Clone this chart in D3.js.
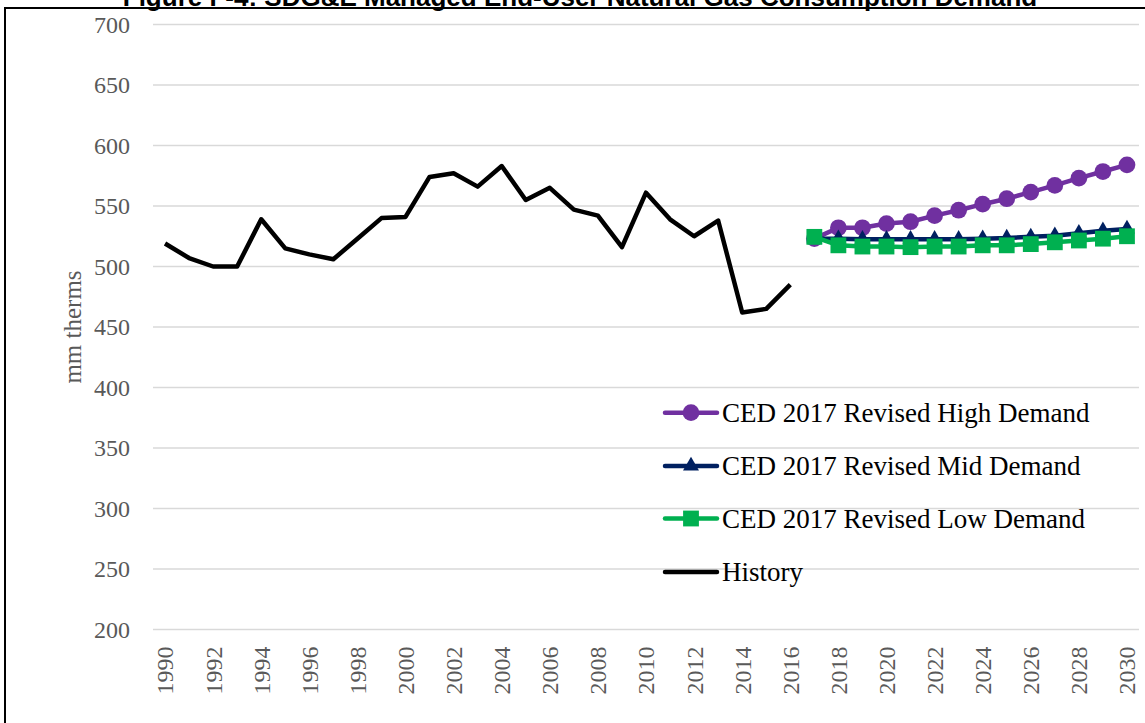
<!DOCTYPE html>
<html>
<head>
<meta charset="utf-8">
<script src="https://cdn.jsdelivr.net/npm/d3@7"></script>
<style>
  html, body { margin: 0; padding: 0; background: #fff; }
  svg { display: block; }
</style>
</head>
<body>
<svg id="chart" width="1145" height="723"></svg>
<script>
// SDG&E managed end-user natural gas consumption, mm therms
const years = d3.range(1990, 2031);
const yTicks = [200, 250, 300, 350, 400, 450, 500, 550, 600, 650, 700];

const historyYears = d3.range(1990, 2017);
const historyValues = [519, 507, 500, 500, 539, 515, 510, 506, 523, 540,
                       541, 574, 577, 566, 583, 555, 565, 547, 542, 516,
                       561, 539, 525, 538, 462, 465, 485];

const forecastYears = d3.range(2017, 2031);
const highValues = [523, 532, 532, 535.5, 537, 542, 546.5, 551.5, 556, 561.5, 567, 573, 578.5, 584];
const midValues  = [523, 523, 522.5, 522.5, 522.5, 522.5, 522.5, 523, 523.5, 524.5, 525.5, 527.5, 529.5, 531];
const lowValues  = [524.5, 517.5, 516.5, 516.5, 516, 516.5, 516.5, 517.5, 517.5, 518.5, 520, 521.5, 523, 525];

const legendLabels = ["CED 2017 Revised High Demand", "CED 2017 Revised Mid Demand",
                      "CED 2017 Revised Low Demand", "History"];

const svg = d3.select("#chart");
const serif = "'Liberation Serif', 'DejaVu Serif', serif";

const x = d3.scaleBand().domain(years).range([153, 1139]).padding(0);
const cx = d => x(d) + x.bandwidth() / 2;
const y = d3.scaleLinear().domain([200, 700]).range([629.5, 24.5]);

// title (partly above the frame)
svg.append("text")
  .attr("x", 580).attr("y", 5.5)
  .attr("text-anchor", "middle")
  .attr("font-family", "'Liberation Sans', Arial, sans-serif")
  .attr("font-weight", "bold")
  .attr("font-size", 26)
  .attr("fill", "#000")
  .text("Figure F-4: SDG&E Managed End-User Natural Gas Consumption Demand");

// chart frame
svg.append("rect")
  .attr("x", 5).attr("y", 8).attr("width", 1300).attr("height", 900)
  .attr("fill", "none").attr("stroke", "#000").attr("stroke-width", 2);

// gridlines
svg.append("g").selectAll("line").data(yTicks).join("line")
  .attr("x1", 153).attr("x2", 1139)
  .attr("y1", d => y(d)).attr("y2", d => y(d))
  .attr("stroke", "#d9d9d9").attr("stroke-width", 1.5);

// y axis labels
const yAxis = svg.append("g").attr("transform", "translate(140,0)")
  .call(d3.axisLeft(y).tickValues(yTicks).tickSize(0).tickPadding(10));
yAxis.select(".domain").remove();
yAxis.selectAll("text")
  .attr("font-family", serif).attr("font-size", 24).attr("fill", "#595959");

// x axis labels (every other year, rotated)
const xAxis = svg.append("g").attr("transform", "translate(0,629.5)")
  .call(d3.axisBottom(x).tickValues(years.filter(d => d % 2 === 0)).tickSize(0).tickPadding(0));
xAxis.select(".domain").remove();
xAxis.selectAll("text")
  .attr("font-family", serif).attr("font-size", 24).attr("fill", "#595959")
  .attr("text-anchor", "end")
  .attr("transform", "rotate(-90)")
  .attr("x", -17).attr("y", 0).attr("dy", "0.35em");

// y axis title
svg.append("text")
  .attr("transform", "translate(72,327) rotate(-90)")
  .attr("text-anchor", "middle").attr("dy", "0.35em")
  .attr("font-family", serif).attr("font-size", 25).attr("fill", "#595959")
  .text("mm therms");

const line = d3.line().x(d => cx(d[0])).y(d => y(d[1]));

// history
svg.append("path")
  .datum(historyYears.map((d, i) => [d, historyValues[i]]))
  .attr("d", line).attr("fill", "none")
  .attr("stroke", "#000").attr("stroke-width", 4.5).attr("stroke-linejoin", "round");

const series = [
  { values: highValues, color: "#7030A0", shape: d3.symbolCircle, size: 220 },
  { values: midValues,  color: "#002060", shape: d3.symbolTriangle, size: 110 },
  { values: lowValues,  color: "#00B050", shape: d3.symbolSquare, size: 250 }
];

series.forEach(s => {
  const pts = forecastYears.map((d, i) => [d, s.values[i]]);
  svg.append("path").datum(pts).attr("d", line).attr("fill", "none")
    .attr("stroke", s.color).attr("stroke-width", 4.5).attr("stroke-linejoin", "round");
  svg.append("g").selectAll("path").data(pts).join("path")
    .attr("d", d3.symbol().type(s.shape).size(s.size))
    .attr("transform", d => `translate(${cx(d[0])},${y(d[1])})`)
    .attr("fill", s.color);
});

// legend
const legendRows = [412.7, 466, 518.5, 572];
const legendStyles = [
  { color: "#7030A0", shape: d3.symbolCircle, size: 220 },
  { color: "#002060", shape: d3.symbolTriangle, size: 110 },
  { color: "#00B050", shape: d3.symbolSquare, size: 250 },
  { color: "#000", shape: null }
];
const lg = svg.append("g");
legendLabels.forEach((label, i) => {
  const ly = legendRows[i];
  const st = legendStyles[i];
  lg.append("line").attr("x1", 665).attr("x2", 717).attr("y1", ly).attr("y2", ly)
    .attr("stroke", st.color).attr("stroke-width", 4.5).attr("stroke-linecap", "round");
  if (st.shape) {
    lg.append("path").attr("d", d3.symbol().type(st.shape).size(st.size))
      .attr("transform", `translate(691,${ly})`).attr("fill", st.color);
  }
  lg.append("text").attr("x", 722).attr("y", ly).attr("dy", "0.35em")
    .attr("font-family", serif).attr("font-size", 27).attr("fill", "#000")
    .text(label);
});
</script>
</body>
</html>
